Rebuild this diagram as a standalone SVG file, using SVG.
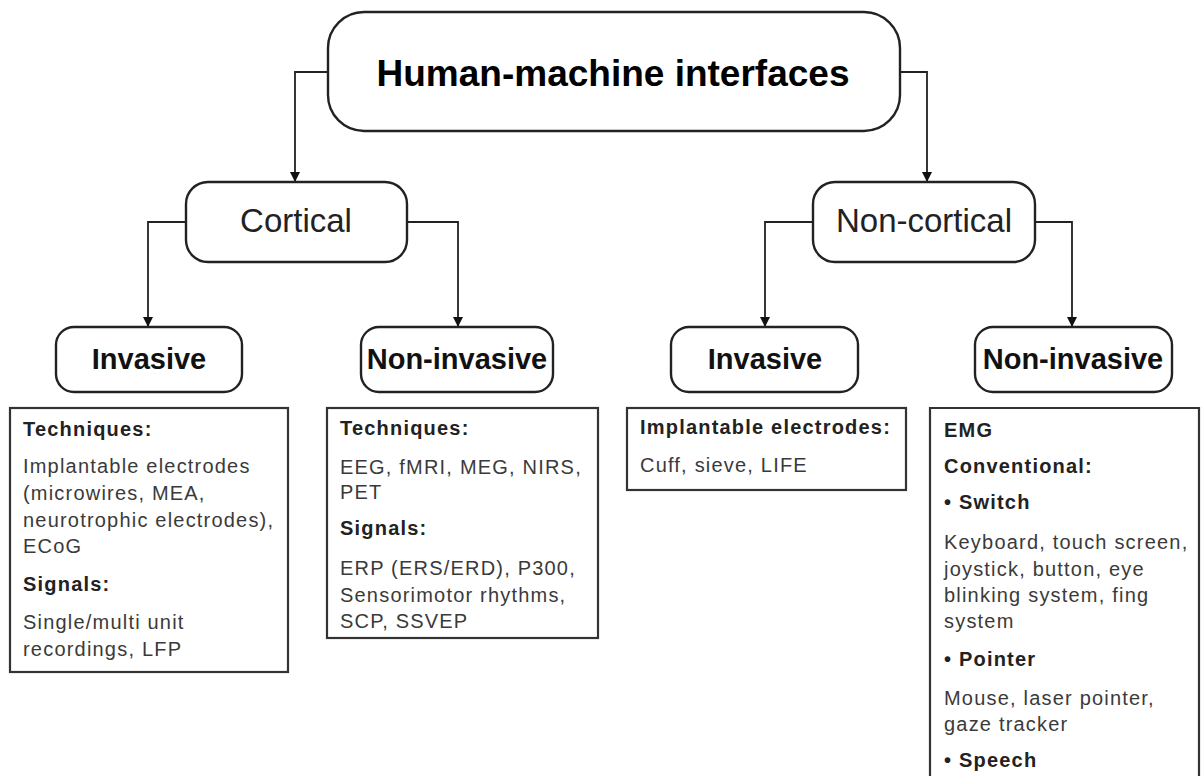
<svg xmlns="http://www.w3.org/2000/svg" width="1201" height="776" viewBox="0 0 1201 776">
  <defs>
    <marker id="arrow" viewBox="0 0 10 14" refX="10" refY="7" markerWidth="10" markerHeight="14" markerUnits="userSpaceOnUse" orient="auto">
      <path d="M0,2 L10,7 L0,12 Z" fill="#111"/>
    </marker>
    <style>
      .node { fill: #fff; stroke: #222; stroke-width: 2.4; }
      .panel { fill: #fff; stroke: #333; stroke-width: 2.2; }
      .conn { fill: none; stroke: #222; stroke-width: 1.8; marker-end: url(#arrow); }
      .title { font-family: "Liberation Sans", Arial, sans-serif; font-weight: bold; font-size: 37px; fill: #000; text-anchor: middle; }
      .mid { font-family: "Liberation Sans", Arial, sans-serif; font-size: 33px; fill: #222; text-anchor: middle; }
      .leaf { font-family: "Liberation Sans", Arial, sans-serif; font-weight: bold; font-size: 29px; fill: #111; text-anchor: middle; }
      .hd { font-family: "Liberation Sans", Arial, sans-serif; font-weight: bold; font-size: 20px; letter-spacing: 1.2px; fill: #222; }
      .tx { font-family: "Liberation Sans", Arial, sans-serif; font-size: 20px; letter-spacing: 1.2px; fill: #3a3a3a; }
    </style>
  </defs>
  <rect width="1201" height="776" fill="#fff"/>

  <!-- connectors -->
  <g id="connectors">
    <path class="conn" d="M328,72 H295 V182"/>
    <path class="conn" d="M900,72 H927 V182"/>
    <path class="conn" d="M186,222 H148 V327"/>
    <path class="conn" d="M407,222 H458 V327"/>
    <path class="conn" d="M813,222 H765 V327"/>
    <path class="conn" d="M1035,222 H1072 V327"/>
  </g>

  <!-- root -->
  <g id="hmi">
    <rect class="node" x="328" y="12" width="572" height="119" rx="36"/>
    <text class="title" x="613" y="86">Human-machine interfaces</text>
  </g>

  <!-- second level -->
  <g id="cortical">
    <rect class="node" x="186" y="182" width="221" height="80" rx="22"/>
    <text class="mid" x="296" y="232">Cortical</text>
  </g>
  <g id="noncortical">
    <rect class="node" x="813" y="182" width="222" height="80" rx="22"/>
    <text class="mid" x="924" y="232">Non-cortical</text>
  </g>

  <!-- third level -->
  <g id="cort-invasive">
    <rect class="node" x="56" y="327" width="186" height="65" rx="18"/>
    <text class="leaf" x="149" y="369">Invasive</text>
  </g>
  <g id="cort-noninvasive">
    <rect class="node" x="361" y="327" width="192" height="65" rx="18"/>
    <text class="leaf" x="457" y="369">Non-invasive</text>
  </g>
  <g id="noncort-invasive">
    <rect class="node" x="671" y="327" width="187" height="65" rx="18"/>
    <text class="leaf" x="765" y="369">Invasive</text>
  </g>
  <g id="noncort-noninvasive">
    <rect class="node" x="975" y="327" width="197" height="65" rx="18"/>
    <text class="leaf" x="1073" y="369">Non-invasive</text>
  </g>

  <!-- detail panels -->
  <g id="cort-invasive-detail">
    <rect class="panel" x="10" y="408" width="278" height="264"/>
    <text class="hd" x="23" y="436">Techniques:</text>
    <text class="tx" x="23" y="473">Implantable electrodes</text>
    <text class="tx" x="23" y="500">(microwires, MEA,</text>
    <text class="tx" x="23" y="527">neurotrophic electrodes),</text>
    <text class="tx" x="23" y="553">ECoG</text>
    <text class="hd" x="23" y="591">Signals:</text>
    <text class="tx" x="23" y="629">Single/multi unit</text>
    <text class="tx" x="23" y="656">recordings, LFP</text>
  </g>

  <g id="cort-noninvasive-detail">
    <rect class="panel" x="327" y="408" width="271" height="230"/>
    <text class="hd" x="340" y="435">Techniques:</text>
    <text class="tx" x="340" y="474">EEG, fMRI, MEG, NIRS,</text>
    <text class="tx" x="340" y="499">PET</text>
    <text class="hd" x="340" y="535">Signals:</text>
    <text class="tx" x="340" y="575">ERP (ERS/ERD), P300,</text>
    <text class="tx" x="340" y="602">Sensorimotor rhythms,</text>
    <text class="tx" x="340" y="628">SCP, SSVEP</text>
  </g>

  <g id="noncort-invasive-detail">
    <rect class="panel" x="627" y="408" width="279" height="82"/>
    <text class="hd" x="640" y="434">Implantable electrodes:</text>
    <text class="tx" x="640" y="472">Cuff, sieve, LIFE</text>
  </g>

  <g id="noncort-noninvasive-detail">
    <path class="panel" d="M930,778 V408 H1199 V778"/>
    <text class="hd" x="944" y="437">EMG</text>
    <text class="hd" x="944" y="473">Conventional:</text>
    <text class="hd" x="944" y="509">• Switch</text>
    <text class="tx" x="944" y="549">Keyboard, touch screen,</text>
    <text class="tx" x="944" y="576">joystick, button, eye</text>
    <text class="tx" x="944" y="602">blinking system, fing</text>
    <text class="tx" x="944" y="628">system</text>
    <text class="hd" x="944" y="666">• Pointer</text>
    <text class="tx" x="944" y="705">Mouse, laser pointer,</text>
    <text class="tx" x="944" y="731">gaze tracker</text>
    <text class="hd" x="944" y="767">• Speech</text>
  </g>
</svg>
